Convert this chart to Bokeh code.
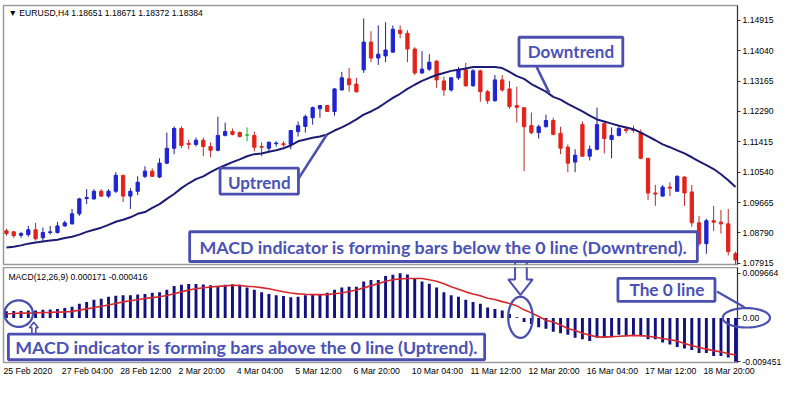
import numpy as np
from bokeh.plotting import figure
from bokeh.layouts import column
from bokeh.models import (ColumnDataSource, Range1d, FixedTicker, PrintfTickFormatter,
                          BoxAnnotation, Label, Arrow, PolyAnnotation, GridBox)
from bokeh.embed import file_html
from bokeh.resources import INLINE

# ---------------- data (EURUSD H4, 25 Feb 2020 20:00 -> 19 Mar 2020 12:00) ----------------
opens = [1.0885, 1.0882, 1.0872, 1.0874, 1.0888, 1.0865, 1.0880, 1.0880, 1.0899, 1.0905,
         1.0934, 1.0978, 1.0977, 1.0999, 1.0985, 1.0999, 1.1045, 1.0985, 1.0999, 1.1042,
         1.1057, 1.1040, 1.1080, 1.1123, 1.1180, 1.1137, 1.1134, 1.1146, 1.1128, 1.1117,
         1.1160, 1.1171, 1.1168, 1.1161, 1.1160, 1.1128, 1.1123, 1.1136, 1.1136, 1.1134,
         1.1171, 1.1186, 1.1211, 1.1237, 1.1246, 1.1229, 1.1291, 1.1323, 1.1308, 1.1349,
         1.1429, 1.1383, 1.1389, 1.1400, 1.1463, 1.1454, 1.1409, 1.1340, 1.1351, 1.1374,
         1.1317, 1.1291, 1.1326, 1.1349, 1.1303, 1.1346, 1.1286, 1.1260, 1.1320, 1.1294,
         1.1246, 1.1240, 1.1188, 1.1168, 1.1185, 1.1203, 1.1166, 1.1126, 1.1083, 1.1191,
         1.1100, 1.1120, 1.1194, 1.1148, 1.1160, 1.1178, 1.1177, 1.1168, 1.1094, 1.0994,
         1.0985, 1.1011, 1.0999, 1.1040, 1.0997, 1.0908, 1.0848, 1.0914, 1.0910, 1.0905,
         1.0819]
highs = [1.0891, 1.0885, 1.0882, 1.0899, 1.0908, 1.0894, 1.0899, 1.0911, 1.0914, 1.0948,
         1.0980, 1.1005, 1.1005, 1.1005, 1.1005, 1.1054, 1.1046, 1.1008, 1.1042, 1.1071,
         1.1065, 1.1094, 1.1168, 1.1186, 1.1186, 1.1148, 1.1154, 1.1154, 1.1140, 1.1214,
         1.1197, 1.1180, 1.1171, 1.1183, 1.1171, 1.1140, 1.1143, 1.1143, 1.1143, 1.1174,
         1.1200, 1.1220, 1.1243, 1.1246, 1.1248, 1.1297, 1.1343, 1.1354, 1.1326, 1.1497,
         1.1460, 1.1477, 1.1486, 1.1477, 1.1477, 1.1463, 1.1414, 1.1403, 1.1394, 1.1377,
         1.1329, 1.1326, 1.1357, 1.1369, 1.1351, 1.1349, 1.1291, 1.1334, 1.1334, 1.1317,
         1.1300, 1.1241, 1.1226, 1.1191, 1.1220, 1.1211, 1.1185, 1.1134, 1.1120, 1.1200,
         1.1131, 1.1240, 1.1200, 1.1183, 1.1186, 1.1186, 1.1188, 1.1177, 1.1095, 1.1017,
         1.1017, 1.1025, 1.1045, 1.1042, 1.1017, 1.0928, 1.0920, 1.0957, 1.0945, 1.0948,
         1.0825]
lows = [1.0871, 1.0865, 1.0865, 1.0868, 1.0857, 1.0854, 1.0874, 1.0877, 1.0897, 1.0903,
        1.0928, 1.0962, 1.0975, 1.0983, 1.0980, 1.0994, 1.0968, 1.0948, 1.0988, 1.1037,
        1.1040, 1.1037, 1.1077, 1.1106, 1.1123, 1.1120, 1.1128, 1.1100, 1.1097, 1.1114,
        1.1157, 1.1160, 1.1154, 1.1143, 1.1114, 1.1100, 1.1114, 1.1128, 1.1128, 1.1120,
        1.1157, 1.1168, 1.1191, 1.1211, 1.1229, 1.1217, 1.1289, 1.1286, 1.1283, 1.1340,
        1.1371, 1.1363, 1.1371, 1.1399, 1.1440, 1.1371, 1.1334, 1.1337, 1.1346, 1.1297,
        1.1274, 1.1286, 1.1320, 1.1300, 1.1300, 1.1257, 1.1251, 1.1257, 1.1286, 1.1237,
        1.1197, 1.1057, 1.1163, 1.1151, 1.1183, 1.1160, 1.1106, 1.1054, 1.1054, 1.1099,
        1.1088, 1.1117, 1.1108, 1.1094, 1.1157, 1.1166, 1.1168, 1.1091, 1.0974, 1.0957,
        1.0984, 1.0985, 1.0998, 1.0957, 1.0897, 1.0842, 1.0819, 1.0885, 1.0877, 1.0814,
        1.0782]
closes = [1.0877, 1.0871, 1.0877, 1.0888, 1.0862, 1.0880, 1.0882, 1.0899, 1.0908, 1.0934,
          1.0977, 1.0981, 1.0999, 1.0985, 1.0999, 1.1045, 1.0985, 1.0999, 1.1025, 1.1057,
          1.1042, 1.1080, 1.1123, 1.1180, 1.1131, 1.1134, 1.1146, 1.1128, 1.1117, 1.1160,
          1.1171, 1.1163, 1.1157, 1.1161, 1.1126, 1.1126, 1.1140, 1.1138, 1.1133, 1.1174,
          1.1188, 1.1214, 1.1240, 1.1246, 1.1229, 1.1294, 1.1326, 1.1306, 1.1286, 1.1429,
          1.1383, 1.1394, 1.1406, 1.1466, 1.1454, 1.1409, 1.1340, 1.1351, 1.1371, 1.1320,
          1.1291, 1.1326, 1.1349, 1.1303, 1.1346, 1.1286, 1.1260, 1.1320, 1.1291, 1.1243,
          1.1241, 1.1185, 1.1168, 1.1185, 1.1203, 1.1163, 1.1123, 1.1080, 1.1103, 1.1100,
          1.1120, 1.1191, 1.1151, 1.1160, 1.1180, 1.1174, 1.1174, 1.1094, 1.0994, 1.0991,
          1.1011, 1.1008, 1.1042, 1.0994, 1.0908, 1.0848, 1.0914, 1.0910, 1.0905, 1.0825,
          1.0801]
moving_avg = [1.0837, 1.0839, 1.0843, 1.0848, 1.0851, 1.0854, 1.0857, 1.0859, 1.0864, 1.0868,
              1.0874, 1.0882, 1.0888, 1.0894, 1.0902, 1.0911, 1.0917, 1.0924, 1.0934, 1.0939,
              1.0951, 1.0962, 1.0977, 1.0991, 1.1008, 1.1022, 1.1034, 1.1042, 1.1054, 1.1065,
              1.1074, 1.1083, 1.1091, 1.1100, 1.1106, 1.1108, 1.1113, 1.1117, 1.1123, 1.1131,
              1.1143, 1.1148, 1.1153, 1.1157, 1.1163, 1.1174, 1.1183, 1.1194, 1.1206, 1.1220,
              1.1229, 1.1240, 1.1254, 1.1268, 1.1280, 1.1294, 1.1306, 1.1317, 1.1326, 1.1334,
              1.1340, 1.1346, 1.1349, 1.1353, 1.1357, 1.1357, 1.1357, 1.1357, 1.1354, 1.1343,
              1.1331, 1.1323, 1.1308, 1.1297, 1.1286, 1.1271, 1.1263, 1.1251, 1.1240, 1.1229,
              1.1217, 1.1206, 1.1200, 1.1194, 1.1188, 1.1183, 1.1178, 1.1168, 1.1157, 1.1146,
              1.1134, 1.1126, 1.1117, 1.1108, 1.1097, 1.1085, 1.1074, 1.1063, 1.1048, 1.1031,
              1.1011]
macd_hist = [0.00144, 0.00151, 0.00151, 0.00164, 0.00164, 0.00177, 0.00184, 0.00197, 0.00217, 0.00243,
             0.00309, 0.00349, 0.00395, 0.00415, 0.00461, 0.00480, 0.00494, 0.00494, 0.00507, 0.00520,
             0.00546, 0.00559, 0.00612, 0.00691, 0.00718, 0.00737, 0.00737, 0.00724, 0.00711, 0.00691,
             0.00718, 0.00731, 0.00718, 0.00658, 0.00612, 0.00559, 0.00520, 0.00494, 0.00474, 0.00447,
             0.00461, 0.00494, 0.00520, 0.00520, 0.00546, 0.00612, 0.00658, 0.00678, 0.00678, 0.00790,
             0.00823, 0.00823, 0.00909, 0.00935, 0.009664, 0.00942, 0.00856, 0.00790, 0.00744, 0.00658,
             0.00559, 0.00494, 0.00461, 0.00395, 0.00349, 0.00309, 0.00230, 0.00197, 0.00164, 0.00085,
             0.00015, -0.00086, -0.00132, -0.00198, -0.00231, -0.00297, -0.00330, -0.00363, -0.00429, -0.00462,
             -0.00495, -0.00429, -0.00429, -0.00416, -0.00363, -0.00376, -0.00376, -0.00396, -0.00462, -0.00462,
             -0.00528, -0.00574, -0.00627, -0.00660, -0.00693, -0.00759, -0.00759, -0.00824, -0.00824, -0.00857,
             -0.009451]
macd_signal = [0.00092, 0.00098, 0.00105, 0.00108, 0.00111, 0.00118, 0.00121, 0.00128, 0.00131, 0.00144,
               0.00171, 0.00197, 0.00223, 0.00256, 0.00283, 0.00316, 0.00349, 0.00372, 0.00395, 0.00421,
               0.00441, 0.00461, 0.00487, 0.00526, 0.00566, 0.00606, 0.00635, 0.00655, 0.00672, 0.00685,
               0.00695, 0.00708, 0.00704, 0.00688, 0.00675, 0.00658, 0.00632, 0.00599, 0.00569, 0.00540,
               0.00523, 0.00513, 0.00507, 0.00507, 0.00507, 0.00526, 0.00543, 0.00573, 0.00606, 0.00652,
               0.00698, 0.00744, 0.00797, 0.00830, 0.00846, 0.00856, 0.00856, 0.00856, 0.00830, 0.00797,
               0.00744, 0.00678, 0.00625, 0.00566, 0.00520, 0.00480, 0.00428, 0.00401, 0.00355, 0.00316,
               0.00263, 0.00177, 0.00111, 0.00032, -0.00047, -0.00086, -0.00152, -0.00225, -0.00271, -0.00330,
               -0.00370, -0.00409, -0.00413, -0.00403, -0.00396, -0.00386, -0.00376, -0.00383, -0.00393, -0.00416,
               -0.00442, -0.00469, -0.00495, -0.00554, -0.00594, -0.00640, -0.00673, -0.00706, -0.00732, -0.00772,
               -0.00798]
price_ticks = [1.07915, 1.08790, 1.09665, 1.10540, 1.11415, 1.12290, 1.13165, 1.14040, 1.14915]
macd_ticks = [-0.009451, 0.0, 0.009664]
macd_tick_labels = ["-0.009451", "0.00", "0.009664"]
date_tick_bars = [0, 8, 16, 24, 32, 40, 48, 56, 64, 72, 80, 88, 96]
date_tick_labels = ["25 Feb 2020", "27 Feb 04:00", "28 Feb 12:00", "2 Mar 20:00", "4 Mar 04:00",
                    "5 Mar 12:00", "6 Mar 20:00", "10 Mar 04:00", "11 Mar 12:00", "12 Mar 20:00",
                    "16 Mar 04:00", "17 Mar 12:00", "18 Mar 20:00"]
header_text = "\u25bc EURUSD,H4  1.18651 1.18671 1.18372 1.18384"
macd_header = "MACD(12,26,9) 0.000171 -0.000416"

# ---------------- styles ----------------
W, H1, H2 = 784, 267, 111
BORDER_L, BORDER_R = 3, 45
Q_BOTTOM = 15
BULL, BEAR, DOJI = "#1f24d2", "#e2231b", "#14b414"
WICK_BULL, WICK_BEAR = "#20208a", "#b42a2a"
MA_COLOR, HIST_COLOR, SIG_COLOR = "#1c1c74", "#12127f", "#d8282c"
ANN_LINE, ANN_TEXT = "#4b50b0", "#4a52b5"
AXIS_FONT = "Liberation Sans"
ANN_FONT = "Lato"

n = len(opens)
idx = np.arange(n)
o = np.array(opens); c = np.array(closes)
body_col = np.where(c > o, BULL, np.where(c < o, BEAR, DOJI))
wick_col = np.where(c > o, WICK_BULL, np.where(c < o, WICK_BEAR, DOJI))
src = ColumnDataSource(dict(x=idx, high=highs, low=lows,
                            top=np.maximum(o, c), bottom=np.minimum(o, c),
                            body=body_col, wick=wick_col))

X0, X1 = -0.403, 100.27
M0, M1 = -0.009628, 0.010933
x_range = Range1d(X0, X1)


def style_right_axis(ax):
    ax.axis_line_color = "#303030"
    ax.major_tick_line_color = "#303030"
    ax.major_tick_out = 3
    ax.major_tick_in = 0
    ax.minor_tick_line_color = None
    ax.minor_tick_out = 0
    ax.major_label_standoff = 2
    ax.major_label_text_font = AXIS_FONT
    ax.major_label_text_font_size = "8.6px"
    ax.major_label_text_color = "#000000"


# ---------------- main price panel ----------------
p = figure(width=W, height=H1, x_range=x_range, y_range=Range1d(1.07879, 1.15344),
           output_backend="svg", toolbar_location=None, x_axis_location=None,
           y_axis_location="right", min_border_left=BORDER_L, min_border_right=BORDER_R,
           min_border_top=5, min_border_bottom=3)
p.grid.visible = False
p.outline_line_color = "#9b9b9b"
p.outline_line_width = 1.5
p.yaxis.ticker = FixedTicker(ticks=price_ticks)
p.yaxis.formatter = PrintfTickFormatter(format="%.5f")
style_right_axis(p.yaxis[0])

p.segment("x", "high", "x", "low", source=src, line_color="wick", line_width=1)
p.vbar(x="x", width=0.45, top="top", bottom="bottom", source=src,
       fill_color="body", line_color="body", line_width=1)
p.line(idx, moving_avg, line_color=MA_COLOR, line_width=2)

p.add_layout(Label(x=0.27, y=1.15115, text=header_text, text_align="left", text_baseline="middle",
                   text_font=AXIS_FONT, text_font_size="8.6px", text_color="#000000"))


def text_box(fig, left, right, bottom, top, text, tx, ty, size):
    fig.add_layout(BoxAnnotation(left=left, right=right, bottom=bottom, top=top,
                                 fill_color="white", fill_alpha=1.0,
                                 line_color=ANN_LINE, line_alpha=1.0, line_width=2.8))
    fig.add_layout(Label(x=tx, y=ty, text=text, text_align="center", text_baseline="middle",
                         text_font=ANN_FONT, text_font_style="bold", text_font_size=size,
                         text_color=ANN_TEXT))


def pointer(fig, x0, y0, x1, y1, width=2.6):
    fig.add_layout(Arrow(start=None, end=None, x_start=x0, y_start=y0, x_end=x1, y_end=y1,
                         line_color=ANN_LINE, line_alpha=1.0, line_width=width))


def outline_poly(fig, xs, ys, width):
    fig.add_layout(PolyAnnotation(xs=list(xs), ys=list(ys), fill_color=None, fill_alpha=0,
                                  line_color=ANN_LINE, line_alpha=1.0, line_width=width))


def ellipse_outline(fig, cx, cy, rx, ry, width=2.3):
    t = np.linspace(0, 2 * np.pi, 80)
    outline_poly(fig, cx + rx * np.cos(t), cy + ry * np.sin(t), width)


# Downtrend / Uptrend call-outs
pointer(p, 72.72, 1.13571, 74.46, 1.12827)
text_box(p, 70.30, 84.54, 1.13599, 1.14429, "Downtrend", 77.42, 1.14014, "17px")
pointer(p, 39.92, 1.10310, 43.95, 1.11626)
text_box(p, 29.30, 40.05, 1.09910, 1.10654, "Uptrend", 34.68, 1.10253, "17px")
# arrow shaft leaving the lower box
pointer(p, 69.76, 1.07965, 69.76, 1.07700, width=2.0)
pointer(p, 71.37, 1.07965, 71.37, 1.07700, width=2.0)
text_box(p, 25.13, 94.76, 1.07965, 1.08823,
         "MACD indicator is forming bars below the 0 line (Downtrend).", 59.95, 1.08394, "17.8px")

# ---------------- MACD panel ----------------
q = figure(width=W, height=H2, x_range=x_range, y_range=Range1d(M0, M1),
           output_backend="svg", toolbar_location=None, y_axis_location="right",
           min_border_left=BORDER_L, min_border_right=BORDER_R, min_border_top=0,
           min_border_bottom=Q_BOTTOM)
q.grid.visible = False
q.outline_line_color = "#9b9b9b"
q.outline_line_width = 1.5
q.yaxis.ticker = FixedTicker(ticks=macd_ticks)
q.yaxis.major_label_overrides = {t: l for t, l in zip(macd_ticks, macd_tick_labels)}
style_right_axis(q.yaxis[0])

q.vbar(x=idx, top=macd_hist, bottom=0, width=0.4, fill_color=HIST_COLOR, line_color=None)
q.line(idx, macd_signal, line_color=SIG_COLOR, line_width=1.6)

# date axis: MT4 labels start at the bar, so shift centred labels right by half their width
ARIAL_W = {" ": .278, ":": .278, "F": .611, "e": .556, "b": .556, "M": .833, "a": .556, "r": .333}
LABEL_PX = 8.7
PX_PER_BAR = (W - BORDER_L - BORDER_R) / (X1 - X0)


def label_width(s):
    return sum(ARIAL_W.get(ch, .556) for ch in s) * LABEL_PX


tick_pos = [round(b + (label_width(s) / 2 - 2.9) / PX_PER_BAR, 4)
            for b, s in zip(date_tick_bars, date_tick_labels)]
xa = q.xaxis[0]
xa.ticker = FixedTicker(ticks=tick_pos)
xa.major_label_overrides = {t: s for t, s in zip(tick_pos, date_tick_labels)}
xa.axis_line_color = None
xa.major_tick_line_color = None
xa.minor_tick_line_color = None
xa.major_tick_out = 0
xa.major_tick_in = 0
xa.minor_tick_out = 0
xa.minor_tick_in = 0
xa.major_label_standoff = 3
xa.major_label_text_font = AXIS_FONT
xa.major_label_text_font_size = "8.7px"
xa.major_label_text_color = "#000000"

q.add_layout(Label(x=0.27, y=0.00896, text=macd_header, text_align="left", text_baseline="middle",
                   text_font=AXIS_FONT, text_font_size="8.6px", text_color="#000000"))

# hollow down arrow pointing to the zero crossing
outline_poly(q, [69.76, 69.76, 68.82, 70.50, 72.18, 71.37, 71.37],
             [0.0125, 0.00836, 0.00836, 0.00500, 0.00836, 0.00836, 0.0125], 2.0)
ellipse_outline(q, 70.50, 0.00016, 1.68, 0.00445)
ellipse_outline(q, 1.68, 0.00095, 1.95, 0.00287)
# small hollow up arrow from the lower box to the circle
outline_poly(q, [3.49, 3.49, 3.16, 3.76, 4.37, 4.03, 4.03],
             [-0.00350, -0.00212, -0.00212, -0.00093, -0.00212, -0.00212, -0.00350], 1.6)
text_box(q, 0.27, 65.59, -0.00903, -0.00350,
         "MACD indicator is forming bars above the 0 line (Uptrend).", 32.93, -0.00626, "17.8px")
text_box(q, 83.87, 97.18, 0.00362, 0.00856, "The 0 line", 90.59, 0.00609, "17.2px")

# ---------------- transparent overlay on the MACD panel ----------------
# same bar / MACD scales as the panel, but its frame covers the whole canvas, so the
# call-out that reaches over the price scale ("0.00") is not clipped at the frame edge.
# It is wrapped in its own column so that the grid does not align its frame with the panel.
frame_h = H2 - Q_BOTTOM
m_per_px = (M1 - M0) / frame_h
ov = figure(width=W, height=H2, output_backend="svg", toolbar_location=None,
            x_range=Range1d(X0 - BORDER_L / PX_PER_BAR, X1 + BORDER_R / PX_PER_BAR),
            y_range=Range1d(M0 - Q_BOTTOM * m_per_px, M1),
            x_axis_location=None, y_axis_location=None,
            min_border_left=0, min_border_right=0, min_border_top=0, min_border_bottom=0,
            background_fill_color=None, border_fill_color=None, outline_line_color=None)
ov.grid.visible = False
pointer(ov, 97.18, 0.00579, 100.94, 0.00243, width=2.2)
ellipse_outline(ov, 101.21, 0.00016, 3.23, 0.00208, width=2.2)

layout = GridBox(children=[(p, 0, 0), (q, 1, 0), (column(ov), 1, 0)])
open("out.html", "w").write(file_html(layout, INLINE))
